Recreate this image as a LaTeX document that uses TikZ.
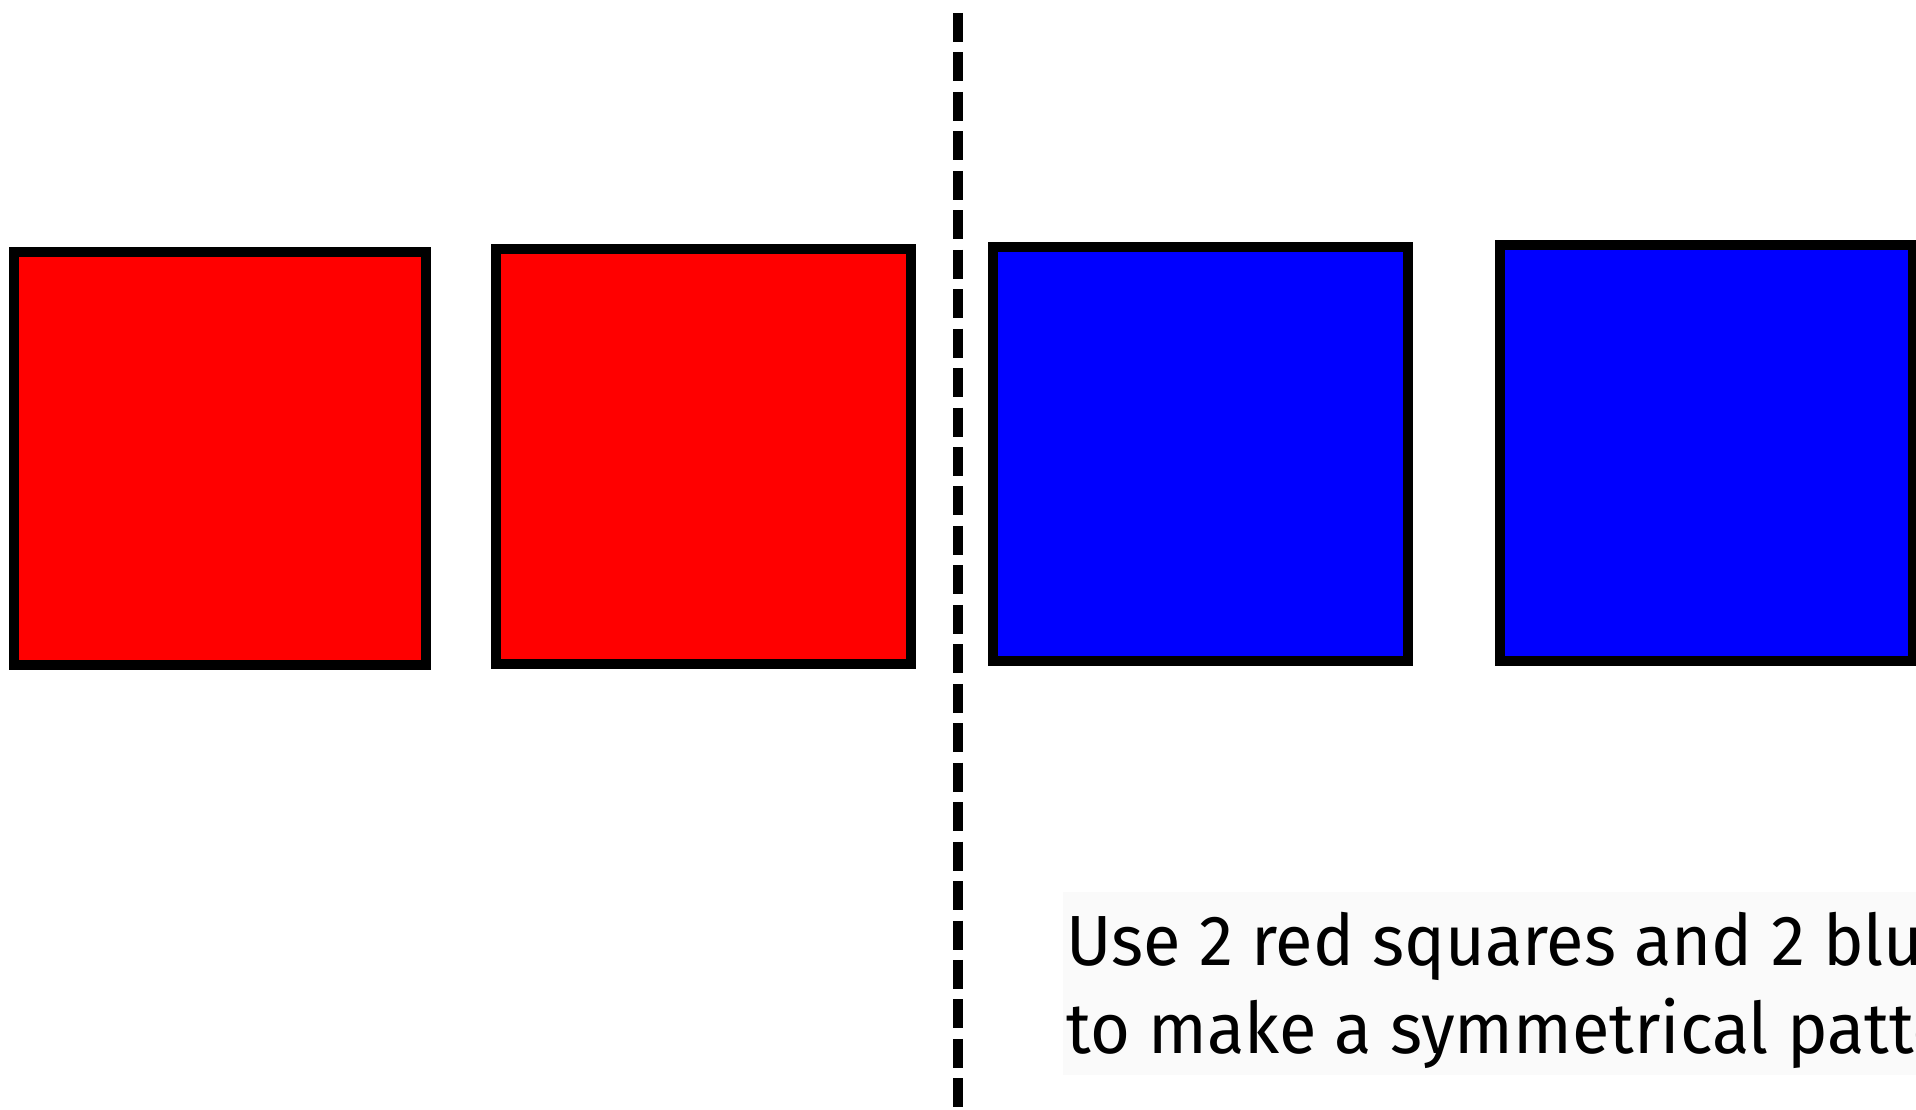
\documentclass[tikz,border=0pt]{standalone}
\usepackage{fontspec}
\newfontfamily\comicfont[FakeStretch=0.965]{Fira Sans}
\definecolor{sqred}{RGB}{255,0,0}
\definecolor{sqblue}{RGB}{0,0,255}
\definecolor{textbg}{RGB}{250,250,250}
\tikzset{
  sqbox/.style={draw=black, line width=2.845pt},
  axisline/.style={draw=black, line width=2.845pt, dash pattern=on 8.25pt off 2.97pt},
  caption/.style={inner sep=0pt, anchor=base west, font=\comicfont\fontsize{20.2pt}{26pt}\selectfont}
}
\begin{document}
\begin{tikzpicture}[x=0.01cm, y=-0.01cm]
\useasboundingbox (0,0) rectangle (1916,1110);
\begin{scope}
\clip (0,0) rectangle (1916,1110);
% text background
\fill[textbg] (1063,892) rectangle (1920,1075);
% squares
\draw[sqbox, fill=sqred] (14,251.7) rectangle (426,665);
\draw[sqbox, fill=sqred] (496,248.7) rectangle (911,664.3);
\draw[sqbox, fill=sqblue] (993,246.7) rectangle (1407.7,661.3);
\draw[sqbox, fill=sqblue] (1499.7,245.3) rectangle (1913,661);
% mirror line
\coordinate (mtop) at (958.3,13);
\coordinate (mbot) at (958.3,1112);
\draw[axisline] (mtop) -- (mbot);
% caption
\node[caption] (line1) at (1066,965) {Use 2 red squares and 2 blue};
\node[caption] (line2) at (1066,1053) {to make a symmetrical pattern};
\end{scope}
\end{tikzpicture}
\end{document}
